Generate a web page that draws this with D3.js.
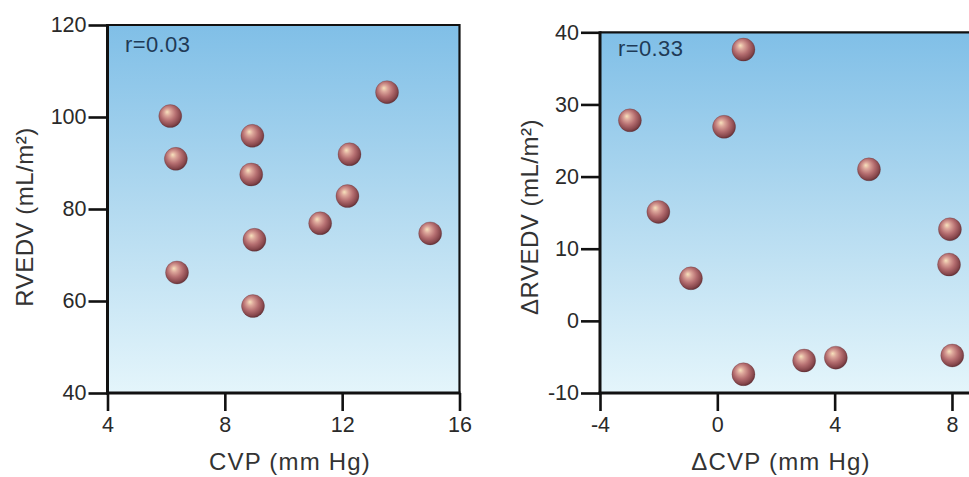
<!DOCTYPE html>
<html>
<head>
<meta charset="utf-8">
<script src="https://cdn.jsdelivr.net/npm/d3@7/dist/d3.min.js"></script>
<style>
  html, body { margin: 0; padding: 0; background: #ffffff; overflow: hidden; }
  svg { display: block; }
  text { font-family: "Liberation Sans", Arial, Helvetica, sans-serif; }
</style>
</head>
<body>
<svg id="chart" width="969" height="477"></svg>
<script>
// ---- Data ----
const leftCVP   = [6.14, 6.33, 6.37, 8.94, 8.90, 9.01, 8.96, 13.53, 12.25, 12.18, 11.25, 15.0];
const leftRVEDV = [100.2, 90.9, 66.2, 95.9, 87.5, 73.3, 58.9, 105.4, 91.9, 82.8, 76.9, 74.7];
const leftXTicks = [4, 8, 12, 16];
const leftYTicks = [40, 60, 80, 100, 120];

const rightDCVP   = [0.89, -2.98, 0.23, 5.17, -2.01, -0.90, 7.93, 7.90, 8.01, 2.96, 4.04, 0.89];
const rightDRVEDV = [37.6, 27.8, 26.9, 21.0, 15.1, 5.9, 12.7, 7.8, -4.8, -5.5, -5.1, -7.4];
const rightXTicks = [-4, 0, 4, 8];
const rightYTicks = [-10, 0, 10, 20, 30, 40];

const panels = [
  { xs: leftCVP, ys: leftRVEDV, xDomain: [4, 16], yDomain: [40, 120],
    xRange: [107.5, 459.5], yRange: [393, 25],
    xTicks: leftXTicks, yTicks: leftYTicks,
    xTitle: "CVP (mm Hg)", yTitle: "RVEDV (mL/m²)", r: "r=0.03",
    xTitlePos: [290, 470], yTitlePos: [33, 217], rPos: [125, 52] },
  { xs: rightDCVP, ys: rightDRVEDV, xDomain: [-4, 12], yDomain: [-10, 40],
    xRange: [600, 1069.3], yRange: [393, 32.3],
    xTicks: rightXTicks, yTicks: rightYTicks,
    xTitle: "ΔCVP (mm Hg)", yTitle: "ΔRVEDV (mL/m²)", r: "r=0.33",
    xTitlePos: [781, 470], yTitlePos: [538, 217], rPos: [618, 56] }
];

const svg = d3.select("#chart");
const defs = svg.append("defs");

const bg = defs.append("linearGradient").attr("id", "bgGrad")
  .attr("x1", 0).attr("y1", 0).attr("x2", 0).attr("y2", 1);
bg.append("stop").attr("offset", "0%").attr("stop-color", "#80bfe7");
bg.append("stop").attr("offset", "50%").attr("stop-color", "#b3daf0");
bg.append("stop").attr("offset", "100%").attr("stop-color", "#e4f5fb");

const sph = defs.append("radialGradient").attr("id", "sphere")
  .attr("cx", "45%").attr("cy", "42%").attr("r", "60%")
  .attr("fx", "36%").attr("fy", "32%");
sph.append("stop").attr("offset", "0%").attr("stop-color", "#f7e2bc");
sph.append("stop").attr("offset", "24%").attr("stop-color", "#dca69a");
sph.append("stop").attr("offset", "55%").attr("stop-color", "#b56e70");
sph.append("stop").attr("offset", "85%").attr("stop-color", "#87474c");
sph.append("stop").attr("offset", "100%").attr("stop-color", "#5e2e33");

const fmt = d => String(d);  // plain hyphen-minus like the reference

panels.forEach(p => {
  const x = d3.scaleLinear().domain(p.xDomain).range(p.xRange);
  const y = d3.scaleLinear().domain(p.yDomain).range(p.yRange);
  const g = svg.append("g");
  const x0 = p.xRange[0], x1 = p.xRange[1], yT = p.yRange[1], yB = p.yRange[0];

  g.append("rect")
    .attr("x", x0).attr("y", yT)
    .attr("width", x1 - x0).attr("height", yB - yT)
    .attr("fill", "url(#bgGrad)");

  g.append("path")
    .attr("d", `M${x0},${yT}H${x1}V${yB}`)
    .attr("fill", "none").attr("stroke", "#111").attr("stroke-width", 2.2);

  const ya = g.append("g").attr("transform", `translate(${x0},0)`)
    .call(d3.axisLeft(y).tickValues(p.yTicks).tickFormat(fmt)
      .tickSize(19).tickSizeOuter(0).tickPadding(2));
  const xa = g.append("g").attr("transform", `translate(0,${yB})`)
    .call(d3.axisBottom(x).tickValues(p.xTicks).tickFormat(fmt)
      .tickSize(18).tickSizeOuter(0).tickPadding(6));

  [ya, xa].forEach(a => {
    a.select(".domain").attr("stroke", "#111").attr("stroke-width", 3);
    a.selectAll(".tick line").attr("stroke", "#111").attr("stroke-width", 2.6);
    a.selectAll(".tick text")
      .attr("fill", "#2a2a2a")
      .style("font-size", "21.5px")
      .style("font-family", '"Liberation Sans", Arial, sans-serif');
  });
  ya.select(".domain").attr("d", `M0,${yB + 1.5}V${yT - 1}`);
  xa.select(".domain").attr("d", `M${x0 - 1.5},0H${x1 + 1}`);

  g.selectAll("circle.pt")
    .data(p.xs.map((v, i) => [v, p.ys[i]]))
    .join("circle")
    .attr("class", "pt")
    .attr("cx", d => x(d[0]))
    .attr("cy", d => y(d[1]))
    .attr("r", 11.5)
    .attr("fill", "url(#sphere)")
    .attr("stroke", "rgba(90,45,50,0.35)")
    .attr("stroke-width", 0.8);

  g.append("text")
    .attr("x", p.rPos[0]).attr("y", p.rPos[1])
    .attr("fill", "#1f3a56")
    .style("font-size", "22px")
    .style("letter-spacing", "0.4px")
    .text(p.r);

  g.append("text")
    .attr("x", p.xTitlePos[0]).attr("y", p.xTitlePos[1])
    .attr("text-anchor", "middle")
    .attr("fill", "#333")
    .style("font-size", "24px")
    .style("letter-spacing", "1.2px")
    .text(p.xTitle);

  g.append("text")
    .attr("transform", `translate(${p.yTitlePos[0]},${p.yTitlePos[1]}) rotate(-90)`)
    .attr("text-anchor", "middle")
    .attr("fill", "#333")
    .style("font-size", "24px")
    .style("letter-spacing", "0.5px")
    .text(p.yTitle);
});
</script>
</body>
</html>
